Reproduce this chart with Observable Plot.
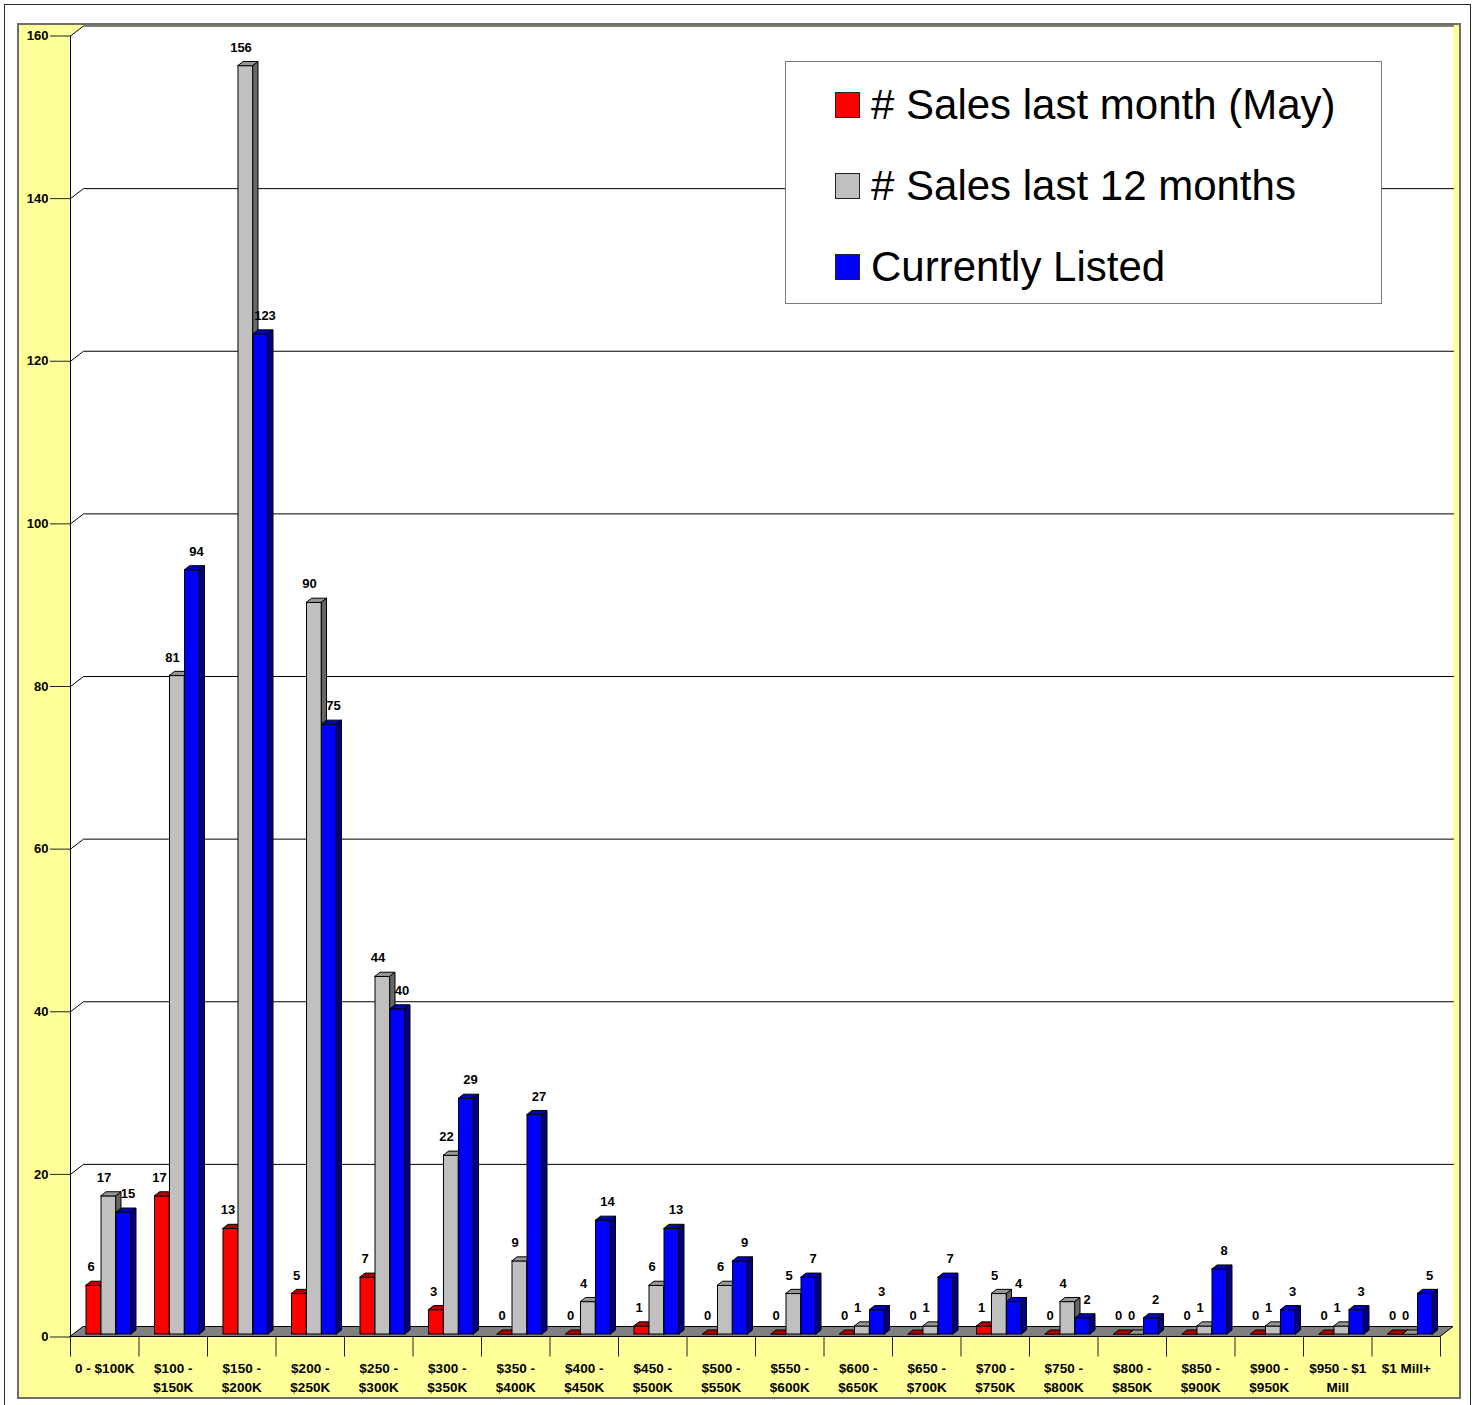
<!DOCTYPE html>
<html>
<head>
<meta charset="utf-8">
<script src="https://cdn.jsdelivr.net/npm/d3@7"></script>
<script src="https://cdn.jsdelivr.net/npm/@observablehq/plot@0.6"></script>
<style>
  html, body { margin: 0; padding: 0; background: #fff; }
  body { width: 1477px; height: 1405px; overflow: hidden; position: relative; font-family: "Liberation Sans", Arial, sans-serif; }
  #outer { position: absolute; left: 4px; top: 4px; width: 1467px; height: 1420px; border: 1.5px solid #2a2a2a; box-sizing: border-box; }
  #panel { position: absolute; left: 17px; top: 23px; width: 1444px; height: 1376px; background: #FFFF99; border: 2px solid #6e6e6e; box-sizing: border-box; }
  #chart { position: absolute; left: 0; top: 0; }
  #legend { position: absolute; left: 785px; top: 61px; width: 597px; height: 243px; background: #fff; border: 1px solid #7a7a7a; box-sizing: border-box; }
  .row { position: absolute; left: 49px; height: 26px; display: flex; align-items: center; white-space: nowrap; }
  .sw { width: 25px; height: 26px; box-sizing: border-box; border: 1px solid #222; flex: none; }
  .lt { margin-left: 11px; font-size: 42px; line-height: 42px; color: #000; }
</style>
</head>
<body>
<div id="outer"></div>
<div id="panel"></div>
<div id="chart"></div>
<div id="legend"></div>
<script>
// ---------------- data ----------------
const categories = [
  "0 - $100K", "$100 -\n$150K", "$150 -\n$200K", "$200 -\n$250K", "$250 -\n$300K",
  "$300 -\n$350K", "$350 -\n$400K", "$400 -\n$450K", "$450 -\n$500K", "$500 -\n$550K",
  "$550 -\n$600K", "$600 -\n$650K", "$650 -\n$700K", "$700 -\n$750K", "$750 -\n$800K",
  "$800 -\n$850K", "$850 -\n$900K", "$900 -\n$950K", "$950 - $1\nMill", "$1 Mill+"
];
const seriesNames = ["# Sales last month (May)", "# Sales last 12 months", "Currently Listed"];
const salesLastMonth    = [6, 17, 13, 5, 7, 3, 0, 0, 1, 0, 0, 0, 0, 1, 0, 0, 0, 0, 0, 0];
const salesLast12Months = [17, 81, 156, 90, 44, 22, 9, 4, 6, 6, 5, 1, 1, 5, 4, 0, 1, 1, 1, 0];
const currentlyListed   = [15, 94, 123, 75, 40, 29, 27, 14, 13, 9, 7, 3, 7, 4, 2, 2, 8, 3, 3, 5];
const yTicks = [0, 20, 40, 60, 80, 100, 120, 140, 160];

// ---------------- layout / style ----------------
const W = 1477, H = 1405;
const M = {left: 70, right: 37, top: 35.5, bottom: 68.5};
const n = categories.length;
const yMax = 160;
const groupPx = (W - M.left - M.right) / n;
const unitPx = (H - M.top - M.bottom) / yMax;
const ux = px => px / groupPx;   // pixels -> x units
const uy = px => px / unitPx;    // pixels -> y units
const WALL_DX = 13, WALL_DY = 10;
const BAR_BASE = 2.5, BAR_W = 15, BAR_DX = 5, BAR_DY = 4;
const BAR_OFF = [16, 31, 46];
const FONT = "'Liberation Sans', Arial, sans-serif";

const seriesStyle = [
  {front: "#FF0000", top: "#B00000", side: "#800000", ldx: -3},
  {front: "#C0C0C0", top: "#969696", side: "#666666", ldx: -5},
  {front: "#0000FF", top: "#0000C0", side: "#000080", ldx: 4}
];
const seriesValues = [salesLastMonth, salesLast12Months, currentlyListed];

// ---------------- derived tables ----------------
const bars = [];
seriesValues.forEach((vals, k) => {
  vals.forEach((v, i) => {
    const x1 = i + ux(BAR_OFF[k]);
    const x2 = x1 + ux(BAR_W);
    const y1 = uy(BAR_BASE);
    bars.push({id: k + "-" + i, k, i, v, x1, x2, y1, y2: y1 + v});
  });
});
const topPts = [], sidePts = [];
for (const b of bars) {
  topPts.push({id: b.id, k: b.k, y: b.y2, x1: b.x1, x2: b.x2});
  topPts.push({id: b.id, k: b.k, y: b.y2 + uy(BAR_DY), x1: b.x1 + ux(BAR_DX), x2: b.x2 + ux(BAR_DX)});
  sidePts.push({id: b.id, k: b.k, x: b.x2, y1: b.y1, y2: b.y2});
  sidePts.push({id: b.id, k: b.k, x: b.x2 + ux(BAR_DX), y1: b.y1 + uy(BAR_DY), y2: b.y2 + uy(BAR_DY)});
}
const wdx = ux(WALL_DX), wdy = uy(WALL_DY);
const wall = [
  {x: 0, y1: 0, y2: yMax},
  {x: wdx, y1: 0, y2: yMax + wdy},
  {x: n, y1: 0, y2: yMax + wdy},
  {x: n + wdx, y1: wdy, y2: yMax + wdy}
];
const floor = [
  {x: 0, y1: 0, y2: 0},
  {x: wdx, y1: 0, y2: wdy},
  {x: n, y1: 0, y2: wdy},
  {x: n + wdx, y1: wdy, y2: wdy}
];
const grid = [];
for (const t of yTicks.filter(t => t > 0)) {
  grid.push({t, x: 0, y: t});
  grid.push({t, x: wdx, y: t + wdy});
  grid.push({t, x: n + wdx, y: t + wdy});
}
const catData = categories.map((c, i) => ({c, i}));

const barMarks = [];
seriesStyle.forEach((s, k) => {
  barMarks.push(Plot.rect(bars.filter(b => b.k === k), {x1: "x1", x2: "x2", y1: "y1", y2: "y2", fill: s.front, stroke: "#000", strokeWidth: 1}));
  barMarks.push(Plot.areaX(topPts.filter(p => p.k === k), {y: "y", x1: "x1", x2: "x2", z: "id", fill: s.top, stroke: "#000", strokeWidth: 1, curve: "linear"}));
  barMarks.push(Plot.areaY(sidePts.filter(p => p.k === k), {x: "x", y1: "y1", y2: "y2", z: "id", fill: s.side, stroke: "#000", strokeWidth: 1, curve: "linear"}));
});
const labelMarks = seriesStyle.map((s, k) =>
  Plot.text(bars.filter(b => b.k === k), {
    x: b => (b.x1 + b.x2) / 2, y: "y2", text: b => String(b.v),
    dx: s.ldx, dy: -18.5, fill: "#000", fontSize: 13, fontWeight: "bold"
  })
);

const chart = Plot.plot({
  width: W, height: H,
  marginLeft: M.left, marginRight: M.right, marginTop: M.top, marginBottom: M.bottom,
  x: {domain: [0, n]},
  y: {domain: [0, yMax]},
  style: {background: "transparent", overflow: "visible", fontFamily: FONT, fontSize: "13px", fontWeight: "bold"},
  marks: [
    Plot.areaY(wall, {x: "x", y1: "y1", y2: "y2", fill: "#fff", curve: "linear"}),
    Plot.line(grid, {x: "x", y: "y", z: "t", stroke: "#000", strokeWidth: 1, curve: "linear"}),
    Plot.areaY(floor, {x: "x", y1: "y1", y2: "y2", fill: "#808080", stroke: "#000", strokeWidth: 1, curve: "linear"}),
    Plot.ruleX([0], {y1: 0, y2: yMax, stroke: "#000"}),
    Plot.axisY({ticks: yTicks, tickSize: 20, tickPadding: 2, label: null, tickFormat: d3.format("d"), stroke: "#222", fontSize: 13, fontWeight: "bold"}),
    Plot.axisX({ticks: d3.range(n + 1), tickSize: 20, tickFormat: () => "", label: null, stroke: "#222"}),
    Plot.text(catData, {x: d => d.i + 0.5, frameAnchor: "bottom", text: "c", lineAnchor: "top", dy: 23, lineHeight: 1.385, fill: "#000", fontSize: 13.5, fontWeight: "bold"}),
    ...barMarks,
    ...labelMarks
  ]
});
document.getElementById("chart").appendChild(chart);

// legend
const legend = document.getElementById("legend");
seriesNames.forEach((name, k) => {
  const row = document.createElement("div");
  row.className = "row";
  row.style.top = (30 + 81 * k) + "px";
  const sw = document.createElement("div");
  sw.className = "sw";
  sw.style.background = seriesStyle[k].front;
  const t = document.createElement("span");
  t.className = "lt";
  t.textContent = name;
  row.appendChild(sw);
  row.appendChild(t);
  legend.appendChild(row);
});
</script>
</body>
</html>
